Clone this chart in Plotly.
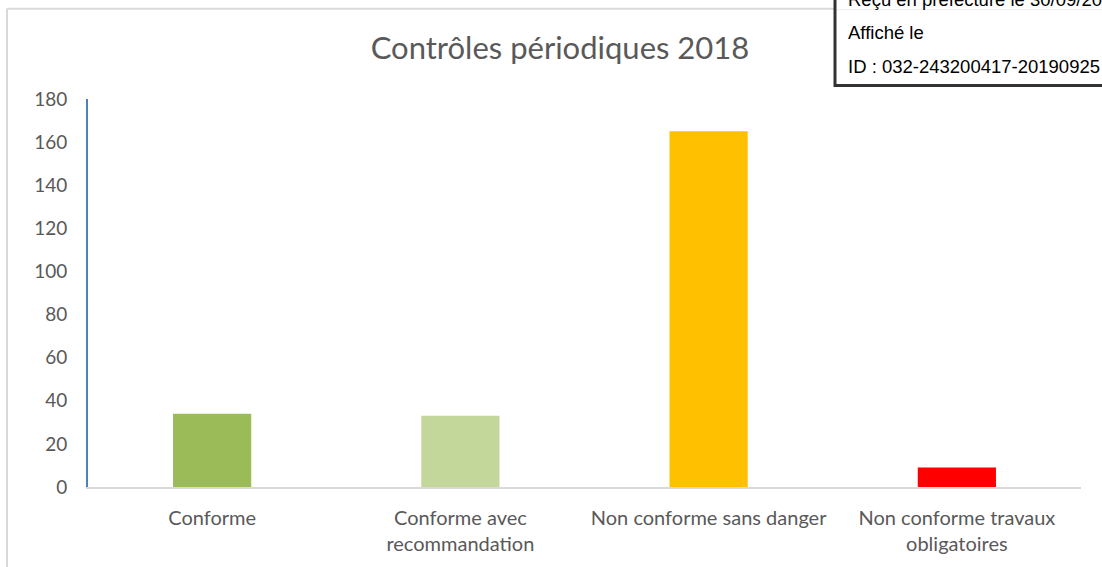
import plotly.graph_objects as go

categories = ["Conforme", "Conforme avec<br>recommandation", "Non conforme sans danger", "Non conforme travaux<br>obligatoires"]
values = [34, 33, 165, 9]
colors = ["#9BBB59", "#C4D79B", "#FFC000", "#FF0000"]
y_ticks = [0, 20, 40, 60, 80, 100, 120, 140, 160, 180]
title = "Contrôles périodiques 2018"
stamp_lines = ["Reçu en préfecture le 30/09/2019", "Affiché le", "ID : 032-243200417-20190925"]

W, H = 1102, 567
L, R, T, B = 88, 21, 98.5, 79.5
pw, ph = W - L - R, H - T - B

def px(x):
    return (x - L) / pw

def py(y):
    return (H - B - y) / ph

FONT = "Lato, Open Sans, sans-serif"

fig = go.Figure(go.Bar(x=categories, y=values, marker_color=colors, marker_line_width=0, width=0.315))

fig.update_layout(
    width=W, height=H,
    margin=dict(l=L, r=R, t=T, b=B),
    paper_bgcolor="white", plot_bgcolor="white",
    font=dict(family=FONT, color="#595959", size=19),
    showlegend=False,
    title=dict(text=title, x=px(560), xref="paper", xanchor="center", y=1 - 48 / H, yanchor="middle",
               font=dict(size=31, color="#595959", family=FONT)),
)
fig.update_yaxes(range=[0, 180], tickvals=y_ticks, showgrid=False, zeroline=False,
                 showline=True, linecolor="#4F81BD", linewidth=2,
                 ticks="", ticklabelstandoff=15, tickfont=dict(size=19, color="#595959"))
fig.update_xaxes(showgrid=False, showline=True, linecolor="#D9D9D9", linewidth=2,
                 ticks="", ticklabelstandoff=12, tickfont=dict(size=20, color="#595959"))

# chart border (top and left edges)
fig.add_shape(type="line", xref="paper", yref="paper", x0=px(7), x1=px(840), y0=py(8), y1=py(8),
              line=dict(color="#D9D9D9", width=2))
fig.add_shape(type="line", xref="paper", yref="paper", x0=px(7), x1=px(7), y0=py(8), y1=py(570),
              line=dict(color="#D9D9D9", width=2))
# stamp box
fig.add_shape(type="rect", xref="paper", yref="paper", x0=px(835), x1=px(1115), y0=py(-10), y1=py(85),
              line=dict(color="#333333", width=3), fillcolor="white", layer="above")
fig.add_shape(type="line", xref="paper", yref="paper", x0=px(837), x1=px(1110), y0=py(9), y1=py(9),
              line=dict(color="#EEEEEE", width=1), layer="above")
for t, yy in zip(stamp_lines, [-1, 32, 66]):
    fig.add_annotation(text=t, xref="paper", yref="paper", x=px(846), y=py(yy), xanchor="left", yanchor="middle",
                       showarrow=False, font=dict(family="Liberation Sans, Arial", size=18.5, color="#000000"))

fig.write_html("out.html", config={"displayModeBar": False},
               post_script="document.body.style.margin='0';document.body.style.overflow='hidden';")
